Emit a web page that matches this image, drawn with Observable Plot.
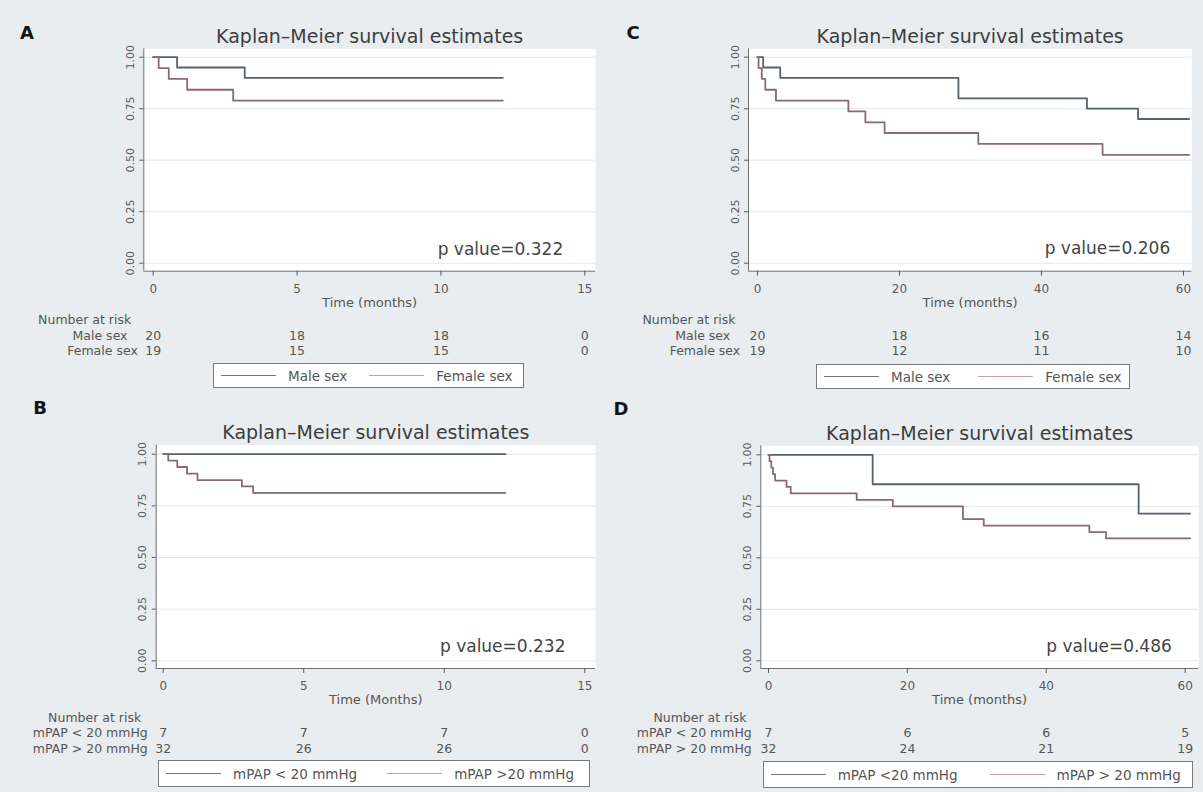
<!DOCTYPE html>
<html>
<head>
<meta charset="utf-8">
<script src="https://cdn.jsdelivr.net/npm/d3@7"></script>
<script src="https://cdn.jsdelivr.net/npm/@observablehq/plot@0.6"></script>
<style>
  html, body { margin: 0; padding: 0; background: #e9edf0; }
  #fig { position: relative; width: 1203px; height: 792px; background: #e9edf0; overflow: hidden;
         font-family: "DejaVu Sans", sans-serif; }
  .pan { position: absolute; }
  .pan svg { overflow: visible; }
  .letter { position: absolute; font-weight: bold; font-size: 18px; color: #141414; line-height: 1;
            transform: translate(-50%, -50%); }
  .legend { position: absolute; background: #fff; border: 1px solid #7a7a7a; box-sizing: border-box;
            display: flex; align-items: center; font-size: 13.5px; color: #555; white-space: nowrap; }
  .item { display: flex; align-items: center; }
  .sw { display: inline-block; width: 55px; height: 0; border-top: 1.3px solid; margin-right: 12px; }
</style>
</head>
<body>
<div id="fig"></div>
<script>
// ---------------- DATA ----------------
const titleText = "Kaplan–Meier survival estimates";
const yTickValues = [0, 0.25, 0.5, 0.75, 1];

// Panel A: sex, 15-month follow-up
const aMaleTime   = [0, 0.83, 3.18, 12.15];
const aMaleSurv   = [1, 0.95, 0.90, 0.90];
const aFemaleTime = [0, 0.19, 0.54, 1.18, 2.78, 12.15];
const aFemaleSurv = [1, 0.947, 0.895, 0.842, 0.789, 0.789];
const aRiskTimes  = [0, 5, 10, 15];
const aRiskMale   = [20, 18, 18, 0];
const aRiskFemale = [19, 15, 15, 0];
const aPValue = "p value=0.322";

// Panel B: mPAP, 15-month follow-up
const bLowTime  = [0, 12.18];
const bLowSurv  = [1, 1];
const bHighTime = [0, 0.18, 0.5, 0.85, 1.22, 2.8, 3.2, 12.18];
const bHighSurv = [1, 0.969, 0.938, 0.906, 0.875, 0.844, 0.813, 0.813];
const bRiskTimes = [0, 5, 10, 15];
const bRiskLow   = [7, 7, 7, 0];
const bRiskHigh  = [32, 26, 26, 0];
const bPValue = "p value=0.232";

// Panel C: sex, 60-month follow-up
const cMaleTime   = [0, 0.8, 3.2, 28.3, 46.4, 53.6, 60.8];
const cMaleSurv   = [1, 0.95, 0.90, 0.80, 0.75, 0.70, 0.70];
const cFemaleTime = [0, 0.15, 0.6, 1.1, 2.6, 12.8, 15.2, 17.9, 31.1, 48.6, 60.8];
const cFemaleSurv = [1, 0.947, 0.895, 0.842, 0.789, 0.737, 0.684, 0.632, 0.579, 0.526, 0.526];
const cRiskTimes  = [0, 20, 40, 60];
const cRiskMale   = [20, 18, 16, 14];
const cRiskFemale = [19, 12, 11, 10];
const cPValue = "p value=0.206";

// Panel D: mPAP, 60-month follow-up
const dLowTime  = [0, 15.0, 53.3, 60.7];
const dLowSurv  = [1, 0.857, 0.714, 0.714];
const dHighTime = [0, 0.15, 0.4, 0.65, 0.95, 2.6, 3.2, 12.7, 17.9, 28.0, 31.0, 46.2, 48.6, 60.7];
const dHighSurv = [1, 0.969, 0.938, 0.906, 0.875, 0.844, 0.813, 0.781, 0.75, 0.688, 0.656, 0.625, 0.594, 0.594];
const dRiskTimes = [0, 20, 40, 60];
const dRiskLow   = [7, 6, 6, 5];
const dRiskHigh  = [32, 24, 21, 19];
const dPValue = "p value=0.486";

// ---------------- STYLE / LAYOUT ----------------
const axisColor = "#707070";
const maleColor = "#56636e";
const femaleColor = "#8a6a70";
const legMale = "#6f7982";
const legFemale = "#cc9ca1";

function series(times, survs) { return times.map((t, i) => ({t, s: survs[i]})); }
function risk(times, ns) { return times.map((t, i) => ({t, n: ns[i]})); }

const panels = [
  { letter: "A", lx: 27, ly: 33,
    left: 0, top: 0, w: 600, h: 396, mL: 143.3, mR: 5, mT: 48.3, mB: 125.3,
    xDomain: [-0.327, 15.372], yDomain: [-0.0388, 1.0408], xTicks: aRiskTimes,
    s1: series(aMaleTime, aMaleSurv), s2: series(aFemaleTime, aFemaleSurv),
    riskTimes: aRiskTimes, r1: aRiskMale, r2: aRiskFemale,
    rowLabels: ["Male sex", "Female sex"], rowDx: [-25.7, -15.4],
    legendLabels: ["Male sex", "Female sex"],
    xLabel: "Time (months)", p: aPValue, pDx: -32.3, pDy: -21.4,
    leg: {left: 212.7, top: 363.3, w: 311.6, h: 25, pad: 7.3, gap: 22} },
  { letter: "C", lx: 633, ly: 33,
    left: 600, top: 0, w: 603, h: 396, mL: 148, mR: 11.7, mT: 48.3, mB: 125.3,
    xDomain: [-1.268, 61.17], yDomain: [-0.0388, 1.0408], xTicks: cRiskTimes,
    s1: series(cMaleTime, cMaleSurv), s2: series(cFemaleTime, cFemaleSurv),
    riskTimes: cRiskTimes, r1: cRiskMale, r2: cRiskFemale,
    rowLabels: ["Male sex", "Female sex"], rowDx: [-27.3, -17.3],
    legendLabels: ["Male sex", "Female sex"],
    xLabel: "Time (months)", p: cPValue, pDx: -21.6, pDy: -22.4,
    leg: {left: 815.7, top: 364, w: 314, h: 25.3, pad: 7.3, gap: 28} },
  { letter: "B", lx: 40, ly: 408,
    left: 0, top: 396, w: 600, h: 396, mL: 155.7, mR: 5, mT: 48.7, mB: 124,
    xDomain: [-0.249, 15.381], yDomain: [-0.0373, 1.0436], xTicks: bRiskTimes,
    s1: series(bLowTime, bLowSurv), s2: series(bHighTime, bHighSurv),
    riskTimes: bRiskTimes, r1: bRiskLow, r2: bRiskHigh,
    rowLabels: ["mPAP < 20 mmHg", "mPAP > 20 mmHg"], rowDx: [-15.4, -15.4],
    legendLabels: ["mPAP < 20 mmHg", "mPAP >20 mmHg"],
    xLabel: "Time (Months)", p: bPValue, pDx: -30, pDy: -22,
    leg: {left: 158.3, top: 760.3, w: 431.7, h: 26.7, pad: 6.7, gap: 30} },
  { letter: "D", lx: 621, ly: 408.5,
    left: 600, top: 396, w: 603, h: 396, mL: 160.3, mR: 5, mT: 49.3, mB: 124,
    xDomain: [-1.109, 61.92], yDomain: [-0.0373, 1.0436], xTicks: dRiskTimes,
    s1: series(dLowTime, dLowSurv), s2: series(dHighTime, dHighSurv),
    riskTimes: dRiskTimes, r1: dRiskLow, r2: dRiskHigh,
    rowLabels: ["mPAP < 20 mmHg", "mPAP > 20 mmHg"], rowDx: [-16.7, -16.7],
    legendLabels: ["mPAP <20 mmHg", "mPAP > 20 mmHg"],
    xLabel: "Time (months)", p: dPValue, pDx: -26.7, pDy: -22,
    leg: {left: 763, top: 761.3, w: 430, h: 26.7, pad: 6.7, gap: 32} }
];

const fig = document.getElementById("fig");
const mid = {lineAnchor: "middle"};

for (const c of panels) {
  const x0 = c.riskTimes[0];
  const chart = Plot.plot({
    width: c.w, height: c.h,
    marginLeft: c.mL, marginRight: c.mR, marginTop: c.mT, marginBottom: c.mB,
    style: {background: "transparent", fontFamily: "'DejaVu Sans', sans-serif", overflow: "visible"},
    x: {domain: c.xDomain},
    y: {domain: c.yDomain},
    marks: [
      Plot.frame({fill: "#ffffff", stroke: "none"}),
      Plot.gridY({ticks: yTickValues, stroke: "#e2e7eb", strokeOpacity: 1, strokeWidth: 1}),
      Plot.ruleY([c.yDomain[0]], {stroke: axisColor, strokeWidth: 1}),
      Plot.ruleX([c.xDomain[0]], {stroke: axisColor, strokeWidth: 1}),
      Plot.axisX({ticks: c.xTicks, tickSize: 5, tickPadding: 8, fontSize: 12, color: "#5a5a5a", label: null}),
      Plot.axisY({ticks: yTickValues, tickFormat: d3.format(".2f"), tickRotate: -90, tickSize: 4,
                  tickPadding: 6, fontSize: 11, color: "#5a5a5a", label: null}),
      Plot.line(c.s1, {x: "t", y: "s", curve: "step-after", stroke: maleColor, strokeWidth: 1.8}),
      Plot.line(c.s2, {x: "t", y: "s", curve: "step-after", stroke: femaleColor, strokeWidth: 1.8}),
      Plot.text([titleText], {...mid, frameAnchor: "top", dy: -12.3, fontSize: 19, fill: "#3d3d3d"}),
      Plot.text([c.p], {...mid, frameAnchor: "bottom-right", dx: c.pDx, dy: c.pDy, textAnchor: "end",
                        fontSize: 17, fill: "#444"}),
      Plot.text([c.xLabel], {...mid, frameAnchor: "bottom", dy: 31.5, fontSize: 13, fill: "#555"}),
      Plot.text([{t: x0, label: "Number at risk"}], {...mid, x: "t", text: "label", frameAnchor: "bottom",
                        dy: 49, dx: -22, textAnchor: "end", fontSize: 12.5, fill: "#555"}),
      Plot.text([{t: x0, label: c.rowLabels[0]}], {...mid, x: "t", text: "label", frameAnchor: "bottom",
                        dy: 64.3, dx: c.rowDx[0], textAnchor: "end", fontSize: 12.5, fill: "#555"}),
      Plot.text([{t: x0, label: c.rowLabels[1]}], {...mid, x: "t", text: "label", frameAnchor: "bottom",
                        dy: 80, dx: c.rowDx[1], textAnchor: "end", fontSize: 12.5, fill: "#555"}),
      Plot.text(risk(c.riskTimes, c.r1), {...mid, x: "t", text: "n", frameAnchor: "bottom", dy: 64.3,
                        fontSize: 12.5, fill: "#555"}),
      Plot.text(risk(c.riskTimes, c.r2), {...mid, x: "t", text: "n", frameAnchor: "bottom", dy: 80,
                        fontSize: 12.5, fill: "#555"})
    ]
  });
  const holder = document.createElement("div");
  holder.className = "pan";
  holder.style.left = c.left + "px";
  holder.style.top = c.top + "px";
  holder.appendChild(chart);
  fig.appendChild(holder);

  // panel letter
  const L = document.createElement("div");
  L.className = "letter";
  L.textContent = c.letter;
  L.style.left = c.lx + "px";
  L.style.top = c.ly + "px";
  fig.appendChild(L);

  // legend
  const g = document.createElement("div");
  g.className = "legend";
  Object.assign(g.style, {left: c.leg.left + "px", top: c.leg.top + "px", width: c.leg.w + "px",
                          height: c.leg.h + "px", paddingLeft: c.leg.pad + "px", gap: c.leg.gap + "px"});
  [[c.legendLabels[0], legMale], [c.legendLabels[1], legFemale]].forEach(([lab, col]) => {
    const it = document.createElement("div");
    it.className = "item";
    const sw = document.createElement("span");
    sw.className = "sw";
    sw.style.borderTopColor = col;
    const tx = document.createElement("span");
    tx.textContent = lab;
    it.appendChild(sw);
    it.appendChild(tx);
    g.appendChild(it);
  });
  fig.appendChild(g);
}
</script>
</body>
</html>
